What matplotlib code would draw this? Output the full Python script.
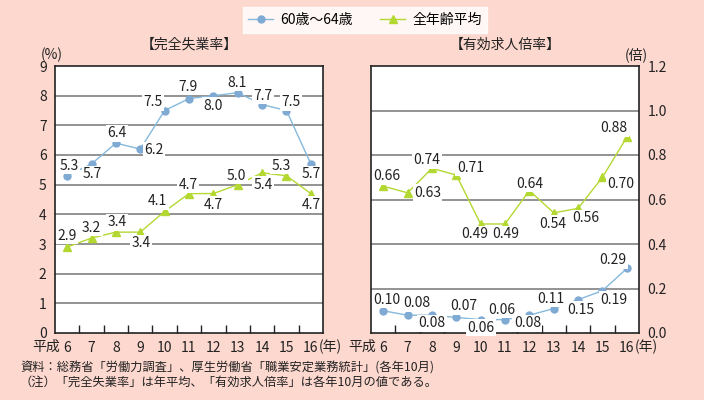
import matplotlib
matplotlib.use("Agg")
import matplotlib.pyplot as plt
from matplotlib.lines import Line2D

plt.rcParams['font.family'] = ['Noto Sans CJK JP', 'DejaVu Sans']

years = ['6', '7', '8', '9', '10', '11', '12', '13', '14', '15', '16']
era_prefix = '平成'
year_suffix = '(年)'

unemp_6064 = [5.3, 5.7, 6.4, 6.2, 7.5, 7.9, 8.0, 8.1, 7.7, 7.5, 5.7]
unemp_all = [2.9, 3.2, 3.4, 3.4, 4.1, 4.7, 4.7, 5.0, 5.4, 5.3, 4.7]
ratio_6064 = [0.10, 0.08, 0.08, 0.07, 0.06, 0.06, 0.08, 0.11, 0.15, 0.19, 0.29]
ratio_all = [0.66, 0.63, 0.74, 0.71, 0.49, 0.49, 0.64, 0.54, 0.56, 0.70, 0.88]

series_names = ['60歳～64歳', '全年齢平均']
title_left = '【完全失業率】'
title_right = '【有効求人倍率】'
note1 = '資料：総務省「労働力調査」、厚生労働省「職業安定業務統計」(各年10月)'
note2 = '（注）「完全失業率」は年平均、「有効求人倍率」は各年10月の値である。'

BG = '#FDD8CF'
BLUE = '#7FAAD4'
BLUE_L = '#86B9DC'
GREEN = '#B4D832'
TXT = '#222222'

W, H = 704, 400
fig = plt.figure(figsize=(W / 100, H / 100), dpi=100, facecolor=BG)

def px_axes(x0, y0, x1, y1):
    return fig.add_axes([x0 / W, 1 - y1 / H, (x1 - x0) / W, (y1 - y0) / H])

axL = px_axes(55, 66, 323, 333)
axR = px_axes(371, 66, 639, 333)

n = len(years)
xs = list(range(n))
FS = 10

def style(ax, ymax, step, fmt, right=False):
    ax.set_xlim(-0.5, n - 0.5)
    ax.set_ylim(0, ymax)
    ticks = [i * step for i in range(int(round(ymax / step)) + 1)]
    ax.set_yticks(ticks)
    ax.set_yticklabels([fmt.format(t) for t in ticks], fontsize=FS, color=TXT)
    for t in ticks[1:-1]:
        ax.axhline(t, color='#808080', lw=1.2, zorder=1)
    ax.set_xticks(xs)
    ax.set_xticklabels(years, fontsize=FS, color=TXT)
    ax.tick_params(axis='x', length=0, pad=6)
    ax.set_xticks([i + 0.5 for i in range(n - 1)], minor=True)
    ax.tick_params(axis='x', which='minor', direction='in', length=6, width=1, color=TXT)
    ax.tick_params(axis='y', length=0, pad=6)
    if right:
        ax.yaxis.tick_right()
    for s in ax.spines.values():
        s.set_color(TXT)
        s.set_linewidth(1.2)
    ax.set_facecolor('white')
    ax.annotate(era_prefix, (0, 0), xycoords=('data', 'axes fraction'),
                xytext=(-7, -14), textcoords='offset pixels', ha='right', va='center',
                fontsize=FS, color=TXT, annotation_clip=False)
    ax.annotate(year_suffix, (n - 1, 0), xycoords=('data', 'axes fraction'),
                xytext=(8, -14), textcoords='offset pixels', ha='left', va='center',
                fontsize=FS, color=TXT, annotation_clip=False)

style(axL, 9, 1, '{:.0f}')
style(axR, 1.2, 0.2, '{:.1f}', right=True)

def plot_series(ax, vals, color, lcolor, marker, ms):
    ax.plot(xs, vals, color=lcolor, lw=1, marker=marker, ms=ms,
            mfc=color, mec=color, zorder=3, clip_on=False)

plot_series(axL, unemp_6064, BLUE, BLUE_L, 'o', 5)
plot_series(axL, unemp_all, GREEN, GREEN, '^', 5.5)
plot_series(axR, ratio_6064, BLUE, BLUE_L, 'o', 5)
plot_series(axR, ratio_all, GREEN, GREEN, '^', 5.5)

def annotate(ax, vals, fmt, offsets):
    for i, (v, off) in enumerate(zip(vals, offsets)):
        ax.annotate(fmt.format(v), (i, v), xytext=off, textcoords='offset pixels',
                    ha='center', va='center', fontsize=FS, color=TXT, zorder=4,
                    bbox=dict(boxstyle='square,pad=0.1', fc='white', ec='none'))

offL_b = [(2, 10), (1, -10), (1, 10), (14, -1), (-12, 8), (-1, 12), (0, -10), (-1, 10), (1, 9), (5, 8), (0, -10)]
offL_g = [(0, 11), (0, 10), (1, 10), (1, -11), (-7, 10), (-1, 9), (0, -11), (-1, 9), (1, -12), (-5, 10), (0, -11)]
annotate(axL, unemp_6064, '{:.1f}', offL_b)
annotate(axL, unemp_all, '{:.1f}', offL_g)

offR_g = [(4, 10), (20, 0), (-5, 8), (14, 7), (-6, -10), (1, -10), (0, 7), (-1, -11), (8, -10), (18, -7), (-13, 9)]
offR_b = [(4, 11), (9, 12), (0, -8), (7, 11), (0, -8), (-3, 10), (-2, -8), (-3, 10), (3, -10), (11, -9), (-14, 8)]
annotate(axR, ratio_all, '{:.2f}', offR_g)
annotate(axR, ratio_6064, '{:.2f}', offR_b)

fig.text(189 / W, 1 - 45 / H, title_left, ha='center', va='center', fontsize=FS, color=TXT)
fig.text(505 / W, 1 - 45 / H, title_right, ha='center', va='center', fontsize=FS, color=TXT)
fig.text(52 / W, 1 - 55 / H, '(%)', ha='center', va='center', fontsize=FS, color=TXT)
fig.text(636 / W, 1 - 55 / H, '(倍)', ha='center', va='center', fontsize=FS, color=TXT)

fig.text(20 / W, 1 - 368 / H, note1, ha='left', va='center', fontsize=8.8, color=TXT)
fig.text(20 / W, 1 - 382 / H, note2, ha='left', va='center', fontsize=8.8, color=TXT)

handles = [Line2D([], [], color=BLUE_L, lw=1, marker='o', ms=5, mfc=BLUE, mec=BLUE),
           Line2D([], [], color=GREEN, lw=1, marker='^', ms=5.5, mfc=GREEN, mec=GREEN)]
leg = fig.legend(handles, series_names, loc='center', bbox_to_anchor=(365 / W, 1 - 20 / H),
                 ncol=2, frameon=True, fontsize=FS, handlelength=1.8, columnspacing=2.0,
                 borderpad=0.4, handletextpad=0.5, fancybox=False)
leg.get_frame().set_facecolor('white')
leg.get_frame().set_edgecolor('white')

fig.savefig('out.png', dpi=100, facecolor=BG)
